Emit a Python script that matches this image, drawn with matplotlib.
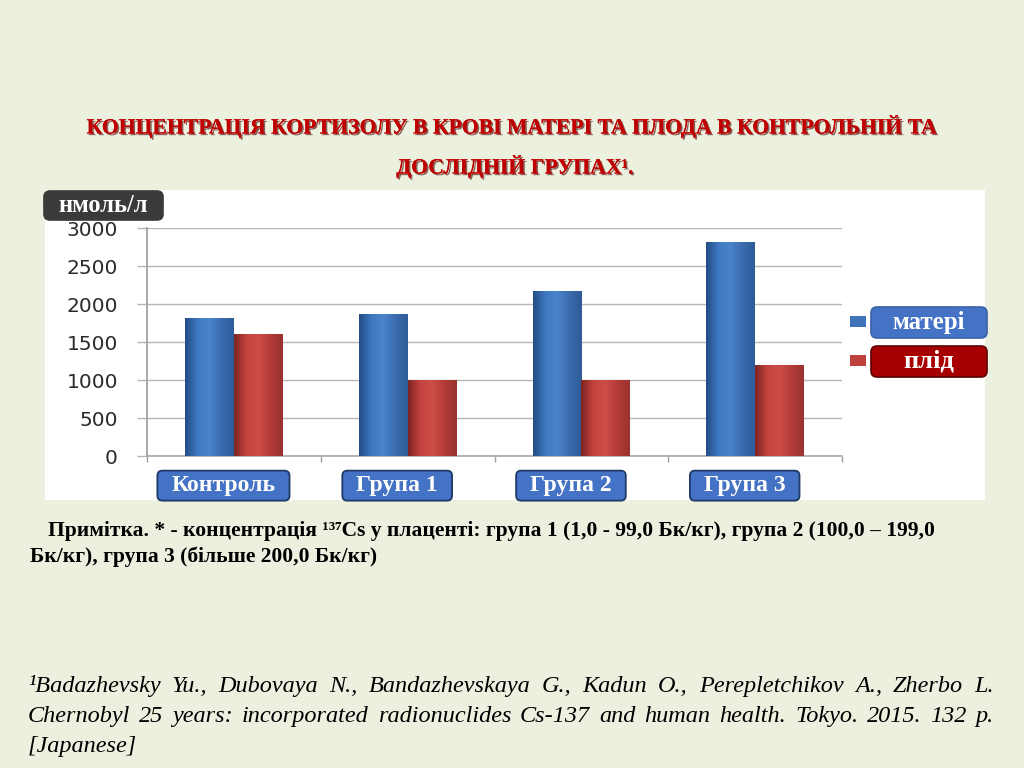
import numpy as np
import matplotlib
matplotlib.use("Agg")
from matplotlib import pyplot as plt
from matplotlib.patches import FancyBboxPatch, Rectangle
from matplotlib.colors import LinearSegmentedColormap
from matplotlib.transforms import Affine2D, blended_transform_factory
import matplotlib.patheffects as pe

# data
categories = ["Контроль", "Група 1", "Група 2", "Група 3"]
mother = [1810, 1870, 2170, 2810]
fetus = [1610, 1000, 1000, 1200]
series_names = ["матері", "плід"]
y_ticks = [0, 500, 1000, 1500, 2000, 2500, 3000]
unit_label = "нмоль/л"

title_lines = ["КОНЦЕНТРАЦІЯ КОРТИЗОЛУ В КРОВІ МАТЕРІ ТА ПЛОДА В КОНТРОЛЬНІЙ ТА",
               "ДОСЛІДНІЙ ГРУПАХ¹."]
note_lines = ["Примітка. * - концентрація ¹³⁷Cs у плаценті: група 1 (1,0 - 99,0 Бк/кг), група 2 (100,0 – 199,0",
              "Бк/кг), група 3 (більше 200,0 Бк/кг)"]
ref_lines = ["¹Badazhevsky Yu., Dubovaya N., Bandazhevskaya G., Kadun O., Perepletchikov A., Zherbo L.",
             "Chernobyl 25 years: incorporated radionuclides Cs-137 and human health.  Tokyo. 2015. 132 p.",
             "[Japanese]"]

W, H = 1024, 768
BG = "#ECF0DF"
SERIF = ["Liberation Serif", "DejaVu Serif"]

fig = plt.figure(figsize=(W / 100, H / 100), dpi=100, facecolor=BG)
px = Affine2D().scale(1 / 100) + fig.dpi_scale_trans  # pixel coords, origin bottom-left
r = fig.canvas.get_renderer()


def ftext(x, y, s, **kw):
    # y measured from the top of the picture
    return fig.text(x, H - y, s, transform=px, **kw)


def fbox(x0, y0, x1, y1, fc, ec, rad=6, lw=1.2, z=1):
    p = FancyBboxPatch((x0, H - y1), x1 - x0, y1 - y0,
                       boxstyle=f"round,pad=0,rounding_size={rad}",
                       transform=px, facecolor=fc, edgecolor=ec, linewidth=lw, zorder=z)
    fig.patches.append(p)
    return p


def fit(t, target):
    w = t.get_window_extent(r).width
    t.set_fontsize(t.get_fontsize() * target / w)


def justified(line, x0, x1, y, **kw):
    words = line.split()
    arts = [ftext(0, y, w, va="baseline", **kw) for w in words]
    widths = [a.get_window_extent(r).width for a in arts]
    gap = (x1 - x0 - sum(widths)) / (len(words) - 1)
    x = x0
    for a, w in zip(arts, widths):
        a.set_x(x)
        x += w + gap


# white chart area
fig.patches.append(Rectangle((45, H - 500), 940, 310, transform=px,
                             facecolor="white", edgecolor="none", zorder=0))

# axes
ax = fig.add_axes([147 / W, 312 / H, 695 / W, 228 / H])
ax.set_zorder(2)
ax.set_facecolor("none")
x = np.arange(len(categories))
bw = 0.28
b1 = ax.bar(x - bw / 2, mother, bw, color="#3F74BA", zorder=3)
b2 = ax.bar(x + bw / 2, fetus, bw, color="#C0403C", zorder=3)

# cylinder-like shading on bars
cm_blue = LinearSegmentedColormap.from_list("b", ["#244d86", "#3f78c2", "#4a84cc", "#3a6cae", "#2f5b98"])
cm_red = LinearSegmentedColormap.from_list("r", ["#7e2523", "#c4433e", "#cf4d48", "#b33b37", "#9a3330"])
grad = np.linspace(0, 1, 64).reshape(1, -1)
for bars, cm in ((b1, cm_blue), (b2, cm_red)):
    for b in bars:
        x0, w, h = b.get_x(), b.get_width(), b.get_height()
        im = ax.imshow(grad, cmap=cm, aspect="auto", extent=(x0, x0 + w, 0, h), zorder=4)
        im.set_clip_path(b)

ax.set_yticks(y_ticks)
ax.set_yticklabels([str(v) for v in y_ticks], fontsize=14.5, color="#2b2b2b", family="DejaVu Sans")
ax.set_xticks(np.arange(len(categories) + 1) - 0.5)
ax.set_xticklabels([])
ax.tick_params(axis="y", length=7, width=1, color="#b5b5b5", pad=14)
ax.tick_params(axis="x", length=4, width=1, color="#a0a0a0")
ax.yaxis.grid(True, color="#b5b5b5", linewidth=1, zorder=0)
ax.set_axisbelow(True)
for s in ("top", "right"):
    ax.spines[s].set_visible(False)
ax.spines["left"].set_color("#a8a8a8")
ax.spines["left"].set_linewidth(1.4)
ax.spines["bottom"].set_color("#a8a8a8")
ax.spines["bottom"].set_linewidth(1.2)
ax.set_xlim(-0.5, len(categories) - 0.5)
ax.set_ylim(0, 3000)

# category labels in blue boxes
tr = blended_transform_factory(ax.transData, ax.transAxes)
for i, c in enumerate(categories):
    t = ax.text(i - 0.06, -0.13, c, transform=tr, ha="center", va="center", color="white",
                fontsize=17, fontweight="bold", family=SERIF, zorder=6, clip_on=False)
    bb = t.get_window_extent(r)
    cx, cy = (bb.x0 + bb.x1) / 2, (bb.y0 + bb.y1) / 2
    fbox(bb.x0 - 14, H - cy - 15, bb.x1 + 14, H - cy + 15, "#4472C4", "#1f3a66", rad=5, lw=1.3, z=1)

# unit label
fbox(44, 191, 163, 220, "#3a3a3a", "#3a3a3a", rad=6, z=1)
t = ftext(103, 205, unit_label, ha="center", va="center", color="white",
          fontsize=14, fontweight="bold", family=SERIF, zorder=3)
fit(t, 90)

# legend
legend_cols = [("#3F74BA", "#4472C4", "#3a62a8"), ("#C0403C", "#A80000", "#5a0000")]
for k, (name, (mc, fc, ec)) in enumerate(zip(series_names, legend_cols)):
    yc = 322 + k * 39
    fig.patches.append(Rectangle((850, H - yc - 5), 16, 11, transform=px,
                                 facecolor=mc, edgecolor="none", zorder=1))
    fbox(871, yc - 15, 987, yc + 16, fc, ec, rad=6, z=1)
    t = ftext(929, yc, name, ha="center", va="center", color="white",
              fontsize=15, fontweight="bold", family=SERIF, zorder=3)
    fit(t, [73, 51][k])

# title
shadow = [pe.withSimplePatchShadow(offset=(1.2, -1.2), shadow_rgbFace="#4a0000", alpha=0.6), pe.Normal()]
t1 = ftext(513, 127, title_lines[0], ha="center", va="center", color="#C00000",
           fontsize=15, fontweight="bold", family=SERIF, path_effects=shadow)
fit(t1, 855)
t2 = ftext(515, 167, title_lines[1], ha="center", va="center", color="#C00000",
           fontsize=t1.get_fontsize(), fontweight="bold", family=SERIF, path_effects=shadow)

# note
n1 = ftext(48, 536, note_lines[0], ha="left", va="baseline", color="black",
           fontsize=14, fontweight="bold", family=SERIF)
fit(n1, 887)
ftext(30, 562, note_lines[1], ha="left", va="baseline", color="black",
      fontsize=n1.get_fontsize(), fontweight="bold", family=SERIF)

# reference
kw = dict(color="black", fontsize=17.5, fontstyle="italic", family="Liberation Serif")
justified(ref_lines[0], 28, 994, 692, **kw)
justified(ref_lines[1], 28, 994, 722, **kw)
ftext(28, 752, ref_lines[2], ha="left", va="baseline", **kw)

fig.savefig("out.png", dpi=100, facecolor=BG)
